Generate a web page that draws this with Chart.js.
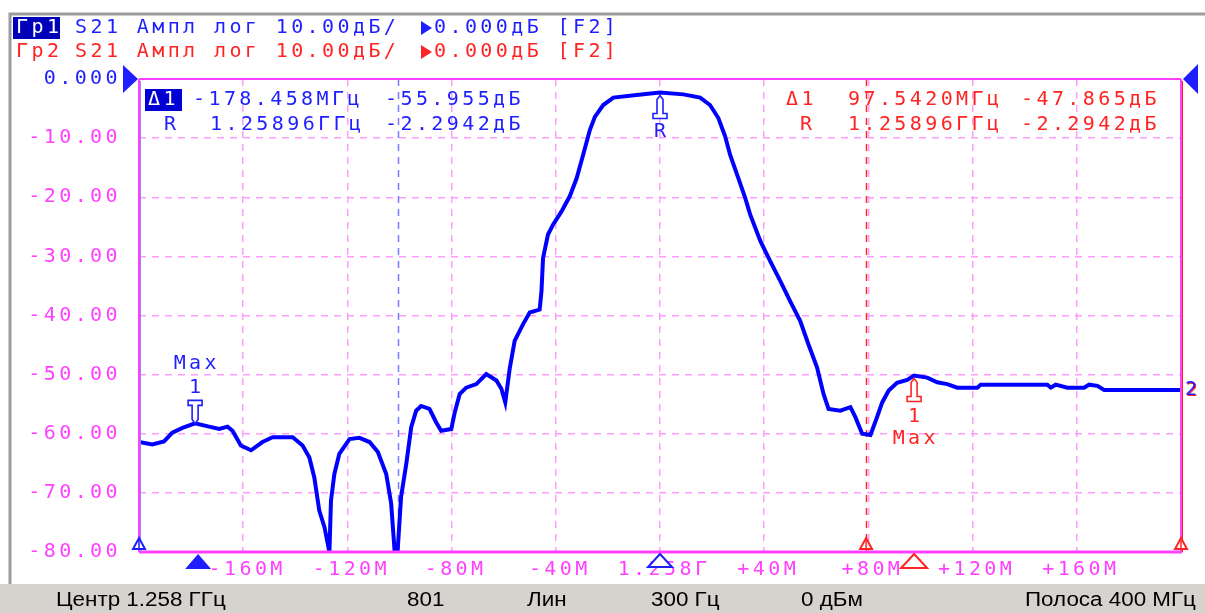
<!DOCTYPE html>
<html>
<head>
<meta charset="utf-8">
<script src="https://cdn.jsdelivr.net/npm/chart.js@4.4.1/dist/chart.umd.min.js"></script>
<style>
  html, body { margin: 0; padding: 0; background: #fff; }
  canvas { display: block; }
</style>
</head>
<body>
<canvas id="vna" width="1205" height="613"></canvas>
<script>
// ── data: offset from centre (MHz) and S21 (dB) ──
const freqs = [
  -200, -194.9, -190.4, -187.2, -183.3, -178.5, -173.1, -169.2, -166.0, -164.1,
  -160.9, -157.0, -152.6, -148.7, -141.0, -137.2, -134.6, -132.7, -130.8, -128.8,
  -126.9, -126.3, -125.0, -123.1, -119.2, -115.4, -111.5, -108.3, -105.1, -103.2,
  -101.9, -100.7, -99.4, -97.4, -95.5, -93.6, -91.7, -88.5, -85.9, -84.0,
  -80.1, -78.8, -76.9, -74.4, -70.5, -66.7, -62.8, -60.9, -59.4, -57.7,
  -55.8, -52.6, -50.0, -46.2, -45.5, -44.9, -43.0, -41.0, -37.8, -34.6,
  -32.0, -29.5, -26.9, -25.0, -21.8, -17.9, -9.0, 0, 9.0, 15.4,
  19.2, 22.4, 25.0, 26.9, 30.1, 32.7, 34.6, 38.5, 42.3, 46.2,
  50.0, 53.8, 57.0, 60.3, 62.8, 64.7, 69.2, 73.1, 75.0, 77.6,
  80.8, 83.3, 85.3, 87.8, 91.0, 94.9, 97.5, 102.6, 106.4, 110.3,
  114.1, 121.8, 123.1, 148.7, 150.0, 151.9, 156.4, 162.8, 164.7, 167.9,
  170.5, 200
];
const s21 = [
  -61.4, -61.8, -61.3, -59.8, -59.0, -58.25, -58.8, -59.2, -58.8, -59.5,
  -62.0, -62.8, -61.4, -60.6, -60.6, -62.0, -64.0, -67.4, -73.0, -75.8,
  -80.0, -71.3, -66.8, -63.4, -60.9, -60.7, -61.4, -63.1, -66.8, -71.8,
  -79.7, -79.7, -70.7, -65.1, -58.9, -56.1, -55.3, -55.8, -58.1, -59.5,
  -59.2, -56.4, -53.3, -52.2, -51.6, -49.9, -51.0, -52.4, -54.7, -49.0,
  -44.3, -41.5, -39.5, -39.0, -35.9, -30.3, -26.3, -24.6, -22.4, -19.8,
  -16.8, -12.8, -8.6, -6.4, -4.4, -3.15, -2.7, -2.29, -2.6, -3.15,
  -4.4, -6.6, -9.7, -12.8, -16.8, -20.1, -22.9, -27.4, -30.8, -34.2,
  -37.6, -40.9, -44.9, -48.8, -53.3, -55.8, -56.1, -55.5, -57.2, -60.0,
  -60.2, -57.2, -54.7, -52.7, -51.4, -50.9, -50.16, -50.5, -51.3, -51.6,
  -52.2, -52.2, -51.7, -51.7, -52.2, -51.7, -52.2, -52.2, -51.7, -51.9,
  -52.6, -52.6
];

const freqTickLabels = ['', '-160M', '-120M', '-80M', '-40M', '1.258Г', '+40M', '+80M', '+120M', '+160M', ''];
const ampTickLabels = ['-80.00', '-70.00', '-60.00', '-50.00', '-40.00', '-30.00', '-20.00', '-10.00', '0.000'];

// markers: reference R and delta markers of the two traces
const refMarker = { f: 0, db: -2.2942, freqText: '1.25896ГГц' };
const deltaF = [-178.458, 97.542];     // Гр1, Гр2 (MHz from R)
const deltaDb = [-55.955, -47.865];    // dB from R
const cursorF = [-100.7, 79.1];        // dashed stimulus lines

// status bar: text and left edge
const statusItems = [
  ['Центр 1.258 ГГц', 56], ['801', 407], ['Лин', 527], ['300 Гц', 651], ['0 дБм', 801], ['Полоса 400 МГц', 1025]
];

const BLUE = '#1e1eff', RED = '#ff2424', PINK = '#ff40ff', GRIDC = '#ff9cff';
const MONO = '"DejaVu Sans Mono", monospace';

function txt(ctx, s, x, y, color, align) {
  ctx.save();
  ctx.font = '20px ' + MONO;
  ctx.letterSpacing = '3.4px';
  ctx.fillStyle = color;
  ctx.textBaseline = 'middle';
  ctx.textAlign = 'left';
  const w = ctx.measureText(s).width - 3.4;
  if (align === 'right') x -= w;
  else if (align === 'center') x -= w / 2;
  ctx.fillText(s, x, y);
  ctx.restore();
}

function tri(ctx, pts, color, filled) {
  ctx.save();
  ctx.beginPath();
  ctx.moveTo(pts[0][0], pts[0][1]);
  pts.slice(1).forEach(p => ctx.lineTo(p[0], p[1]));
  ctx.closePath();
  if (filled) { ctx.fillStyle = color; ctx.fill(); }
  else { ctx.fillStyle = '#fff'; ctx.fill(); ctx.lineWidth = 2; ctx.strokeStyle = color; ctx.stroke(); }
  ctx.restore();
}

// pointer drawn on the trace; dir = 1 points down onto the trace, -1 points up
function pointer(ctx, x, y, color, dir) {
  ctx.save();
  ctx.lineWidth = 1.6;
  ctx.strokeStyle = color;
  ctx.fillStyle = '#fff';
  ctx.beginPath();
  ctx.moveTo(x, y);
  ctx.lineTo(x - 3, y - dir * 4);
  ctx.lineTo(x - 3, y - dir * 18);
  ctx.lineTo(x - 7, y - dir * 18);
  ctx.lineTo(x - 7, y - dir * 23);
  ctx.lineTo(x + 7, y - dir * 23);
  ctx.lineTo(x + 7, y - dir * 18);
  ctx.lineTo(x + 3, y - dir * 18);
  ctx.lineTo(x + 3, y - dir * 4);
  ctx.closePath();
  ctx.fill();
  ctx.stroke();
  ctx.restore();
}

const screenPlugin = {
  id: 'screen',
  beforeDraw(chart) {
    const ctx = chart.ctx;
    ctx.letterSpacing = '3.4px';
    ctx.save();
    ctx.letterSpacing = '0px';
    // window frame
    ctx.strokeStyle = '#9c9c9c';
    ctx.lineWidth = 3;
    ctx.beginPath();
    ctx.moveTo(10, 584); ctx.lineTo(10, 14); ctx.lineTo(1205, 14);
    ctx.stroke();
    // status bar
    ctx.fillStyle = '#d6d3ce';
    ctx.fillRect(0, 584, 1205, 29);
    ctx.fillStyle = '#000';
    ctx.font = '20px "Liberation Sans", sans-serif';
    ctx.textBaseline = 'middle';
    statusItems.forEach(([s, x0]) => {
      ctx.save();
      ctx.translate(x0, 600);
      ctx.scale(1.12, 1);
      ctx.fillText(s, 0, 0);
      ctx.restore();
    });
    ctx.restore();
  },
  beforeDatasetsDraw(chart) {
    const ctx = chart.ctx, a = chart.chartArea, xs = chart.scales.x;
    ctx.save();
    ctx.lineWidth = 1.5;
    ctx.setLineDash([7, 6]);
    cursorF.forEach((f, i) => {
      const x = Math.round(xs.getPixelForValue(f)) + 0.5;
      ctx.strokeStyle = i === 0 ? '#7a7aff' : RED;
      ctx.beginPath(); ctx.moveTo(x, a.top); ctx.lineTo(x, a.bottom); ctx.stroke();
    });
    ctx.restore();
  },
  afterDatasetsDraw(chart) {
    const ctx = chart.ctx, a = chart.chartArea, xs = chart.scales.x, ys = chart.scales.y;
    ctx.save();
    // plot border
    ctx.strokeStyle = PINK;
    ctx.lineWidth = 2;
    ctx.beginPath(); ctx.moveTo(a.left, a.top); ctx.lineTo(a.right, a.top); ctx.stroke();
    ctx.beginPath(); ctx.moveTo(a.left, a.top); ctx.lineTo(a.left, a.bottom); ctx.stroke();
    ctx.beginPath(); ctx.moveTo(a.right, a.top); ctx.lineTo(a.right, a.bottom); ctx.stroke();
    ctx.lineWidth = 3;
    ctx.beginPath(); ctx.moveTo(a.left, a.bottom); ctx.lineTo(a.right + 1, a.bottom); ctx.stroke();
    ctx.lineWidth = 1;
    ctx.strokeStyle = '#8a8aff';
    ctx.beginPath(); ctx.moveTo(a.left + 1.5, a.top + 2); ctx.lineTo(a.left + 1.5, a.bottom); ctx.stroke();
    ctx.strokeStyle = RED;
    ctx.beginPath(); ctx.moveTo(a.right + 1.5, a.top + 2); ctx.lineTo(a.right + 1.5, a.bottom); ctx.stroke();
    ctx.restore();

    // reference level arrows
    const y0 = ys.getPixelForValue(0);
    tri(ctx, [[123, y0 - 14], [138, y0], [123, y0 + 14]], BLUE, true);
    tri(ctx, [[1198, y0 - 15], [1183, y0], [1198, y0 + 15]], BLUE, true);
    const y2 = ys.getPixelForValue(s21[s21.length - 1]);
    txt(ctx, '2', a.right + 5, y2 + 1, RED);
    txt(ctx, '2', a.right + 4, y2, BLUE);

    // stimulus markers on the bottom edge
    [[-200, BLUE], [cursorF[1], RED], [200, RED]].forEach(([f, c]) => {
      const x = xs.getPixelForValue(f);
      tri(ctx, [[x, a.bottom - 14], [x + 6, a.bottom - 3], [x - 6, a.bottom - 3]], c, false);
      ctx.save(); ctx.strokeStyle = c; ctx.lineWidth = 1.5;
      ctx.beginPath(); ctx.moveTo(x, a.bottom - 14); ctx.lineTo(x, a.bottom - 3); ctx.stroke(); ctx.restore();
    });

    // marker arrows below the axis
    const bx = xs.getPixelForValue(refMarker.f + deltaF[0]);
    tri(ctx, [[bx + 3, a.bottom + 2], [bx + 16, a.bottom + 17], [bx - 10, a.bottom + 17]], BLUE, true);
    const rx = xs.getPixelForValue(refMarker.f);
    tri(ctx, [[rx, a.bottom + 2], [rx + 12, a.bottom + 15], [rx - 12, a.bottom + 15]], BLUE, false);
    const qx = xs.getPixelForValue(refMarker.f + deltaF[1]);
    tri(ctx, [[qx, a.bottom + 2], [qx + 13, a.bottom + 16], [qx - 13, a.bottom + 16]], RED, false);

    // markers on the trace
    const m1y = ys.getPixelForValue(refMarker.db + deltaDb[0]);
    pointer(ctx, bx, m1y, BLUE, 1);
    txt(ctx, '1', bx, m1y - 36, BLUE, 'center');
    txt(ctx, 'Max', bx, m1y - 60, BLUE, 'center');
    const ry = ys.getPixelForValue(refMarker.db);
    pointer(ctx, rx, ry + 3, BLUE, -1);
    txt(ctx, 'R', rx, ry + 39, BLUE, 'center');
    const m2y = ys.getPixelForValue(refMarker.db + deltaDb[1]);
    pointer(ctx, qx, m2y + 3, RED, -1);
    txt(ctx, '1', qx, m2y + 41, RED, 'center');
    txt(ctx, 'Max', qx, m2y + 63, RED, 'center');

    // marker readouts
    ctx.save(); ctx.fillStyle = '#0000d2'; ctx.fillRect(145, 89, 37, 22); ctx.restore();
    txt(ctx, 'Δ1', 148, 100, '#fff');
    txt(ctx, deltaF[0].toFixed(3) + 'МГц', 193, 100, BLUE);
    txt(ctx, deltaDb[0].toFixed(3) + 'дБ', 385, 100, BLUE);
    txt(ctx, 'R', 164, 125, BLUE);
    txt(ctx, refMarker.freqText, 210, 125, BLUE);
    txt(ctx, refMarker.db.toFixed(4) + 'дБ', 385, 125, BLUE);
    txt(ctx, 'Δ1', 786, 100, RED);
    txt(ctx, deltaF[1].toFixed(4) + 'МГц', 848, 100, RED);
    txt(ctx, deltaDb[1].toFixed(3) + 'дБ', 1021, 100, RED);
    txt(ctx, 'R', 800, 125, RED);
    txt(ctx, refMarker.freqText, 848, 125, RED);
    txt(ctx, refMarker.db.toFixed(4) + 'дБ', 1021, 125, RED);

    // channel header lines
    ctx.save(); ctx.fillStyle = '#0000b8'; ctx.fillRect(13, 17, 47, 22); ctx.restore();
    txt(ctx, 'Гр1', 16, 28, '#fff');
    txt(ctx, 'S21 Ампл лог 10.00дБ/', 75, 28, BLUE);
    tri(ctx, [[421, 21], [432, 28], [421, 35]], BLUE, true);
    txt(ctx, '0.000дБ [F2]', 434, 28, BLUE);
    txt(ctx, 'Гр2', 16, 52, RED);
    txt(ctx, 'S21 Ампл лог 10.00дБ/', 75, 52, RED);
    tri(ctx, [[421, 45], [432, 52], [421, 59]], RED, true);
    txt(ctx, '0.000дБ [F2]', 434, 52, RED);
  }
};

new Chart(document.getElementById('vna'), {
  type: 'line',
  data: {
    datasets: [{
      label: 'S21',
      data: freqs.map((f, i) => ({ x: f, y: s21[i] })),
      borderColor: '#0000ff',
      borderWidth: 4,
      pointRadius: 0,
      tension: 0,
      fill: false
    }]
  },
  options: {
    responsive: false,
    animation: false,
    devicePixelRatio: 1,
    layout: { padding: { top: 79, right: 24, left: 0, bottom: 0 } },
    plugins: { legend: { display: false }, tooltip: { enabled: false } },
    scales: {
      x: {
        type: 'linear', min: -200, max: 200,
        afterFit: s => { s.height = 61; },
        border: { display: false, dash: [7, 6] },
        grid: {
          drawTicks: false, lineWidth: 1.5,
          color: c => (c.tick && Math.abs(c.tick.value) === 200) ? 'rgba(0,0,0,0)' : GRIDC
        },
        ticks: {
          stepSize: 40, autoSkip: false, maxRotation: 0, padding: 6, labelOffset: 4,
          color: PINK, font: { family: MONO, size: 20 },
          callback: (v, i) => freqTickLabels[i]
        }
      },
      y: {
        min: -80, max: 0,
        afterFit: s => { s.width = 139; },
        border: { display: false, dash: [7, 6] },
        grid: {
          drawTicks: false, lineWidth: 1.5,
          color: c => (c.tick && (c.tick.value === 0 || c.tick.value === -80)) ? 'rgba(0,0,0,0)' : GRIDC
        },
        ticks: {
          stepSize: 10, padding: 18,
          color: c => c.tick && c.tick.value === 0 ? BLUE : PINK,
          font: { family: MONO, size: 20 },
          callback: (v, i) => ampTickLabels[i]
        }
      }
    }
  },
  plugins: [screenPlugin]
});
</script>
</body>
</html>
